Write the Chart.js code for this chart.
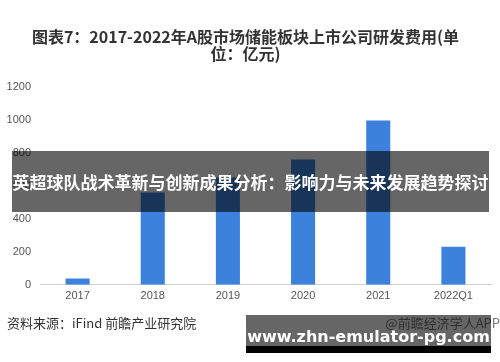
<!DOCTYPE html>
<html>
<head>
<meta charset="utf-8">
<script src="https://cdn.jsdelivr.net/npm/chart.js@4.4.0/dist/chart.umd.min.js"></script>
<style>
  body { margin: 0; background: #fff; }
  #wrap { position: relative; width: 500px; height: 362px; overflow: hidden; font-family: "Noto Sans CJK SC", sans-serif; }
  #box { position: absolute; left: 0; top: 0; width: 500px; height: 316px; }
  .note { position: absolute; font-size: 13px; line-height: 16px; white-space: nowrap; }
  #source { left: 7px; top: 315px; color: #333; }
  #app { right: 0; top: 315px; color: #777; }
  #band { position: absolute; left: 12px; top: 151px; width: 477px; height: 61px; background: rgba(0,0,0,0.6);
          color: #fff; font-weight: bold; font-size: 17px; line-height: 61px; text-align: center; white-space: nowrap; }
  #site { position: absolute; left: 246px; top: 315px; width: 245px; height: 25px; padding-top: 6px; background: rgba(0,0,0,0.6);
          border-bottom: 7px solid #000; color: #fff; font-family: "DejaVu Sans", sans-serif; font-weight: bold;
          font-size: 16px; line-height: 31px; text-align: center; }
</style>
</head>
<body>
<div id="wrap">
  <div id="box"><canvas id="chart"></canvas></div>
  <div class="note" id="source">资料来源：iFind 前瞻产业研究院</div>
  <div class="note" id="app">@前瞻经济学人APP</div>
  <div id="band">英超球队战术革新与创新成果分析：影响力与未来发展趋势探讨</div>
  <div id="site">www.zhn-emulator-pg.com</div>
</div>
<script>
// 研发费用（亿元）
const years = ["2017", "2018", "2019", "2020", "2021", "2022Q1"];
const rdCost = [38, 559, 650, 758, 994, 230];
const yTicks = [0, 200, 400, 600, 800, 1000, 1200];
const titleLines = ["图表7：2017-2022年A股市场储能板块上市公司研发费用(单", "位：亿元)"];

const numFont = '"Liberation Sans", "Noto Sans CJK SC", sans-serif';

const config = {
  type: "bar",
  data: {
    labels: years,
    datasets: [
      {
        label: "研发费用",
        data: rdCost,
        backgroundColor: "#3c82dc",
        barPercentage: 0.64,
        categoryPercentage: 0.5,
      },
    ],
  },
  options: {
    responsive: true,
    maintainAspectRatio: false,
    animation: false,
    layout: { padding: { top: 18, right: 9, bottom: 8, left: 0 } },
    plugins: {
      legend: { display: false },
      tooltip: { enabled: false },
      title: {
        display: true,
        text: titleLines,
        color: "#333",
        font: { family: '"Noto Sans CJK SC", sans-serif', size: 16, weight: "bold", lineHeight: 1.08 },
        padding: { top: 10, bottom: 24 },
      },
    },
    scales: {
      x: {
        grid: { display: false, drawTicks: false, tickLength: 0 },
        border: { color: "#d0d0d0" },
        ticks: { color: "#555", font: { family: numFont, size: 11 }, padding: 5 },
      },
      y: {
        min: 0,
        max: 1200,
        afterBuildTicks: (axis) => {
          axis.ticks = yTicks.map((v) => ({ value: v }));
        },
        afterFit: (axis) => {
          axis.width = 40;
        },
        grid: { display: false, drawTicks: false, tickLength: 0 },
        border: { display: false },
        ticks: {
          color: "#555",
          font: { family: numFont, size: 11 },
          padding: 9,
          callback: (v) => String(v),
        },
      },
    },
  },
};

new Chart(document.getElementById("chart").getContext("2d"), config);
</script>
</body>
</html>
